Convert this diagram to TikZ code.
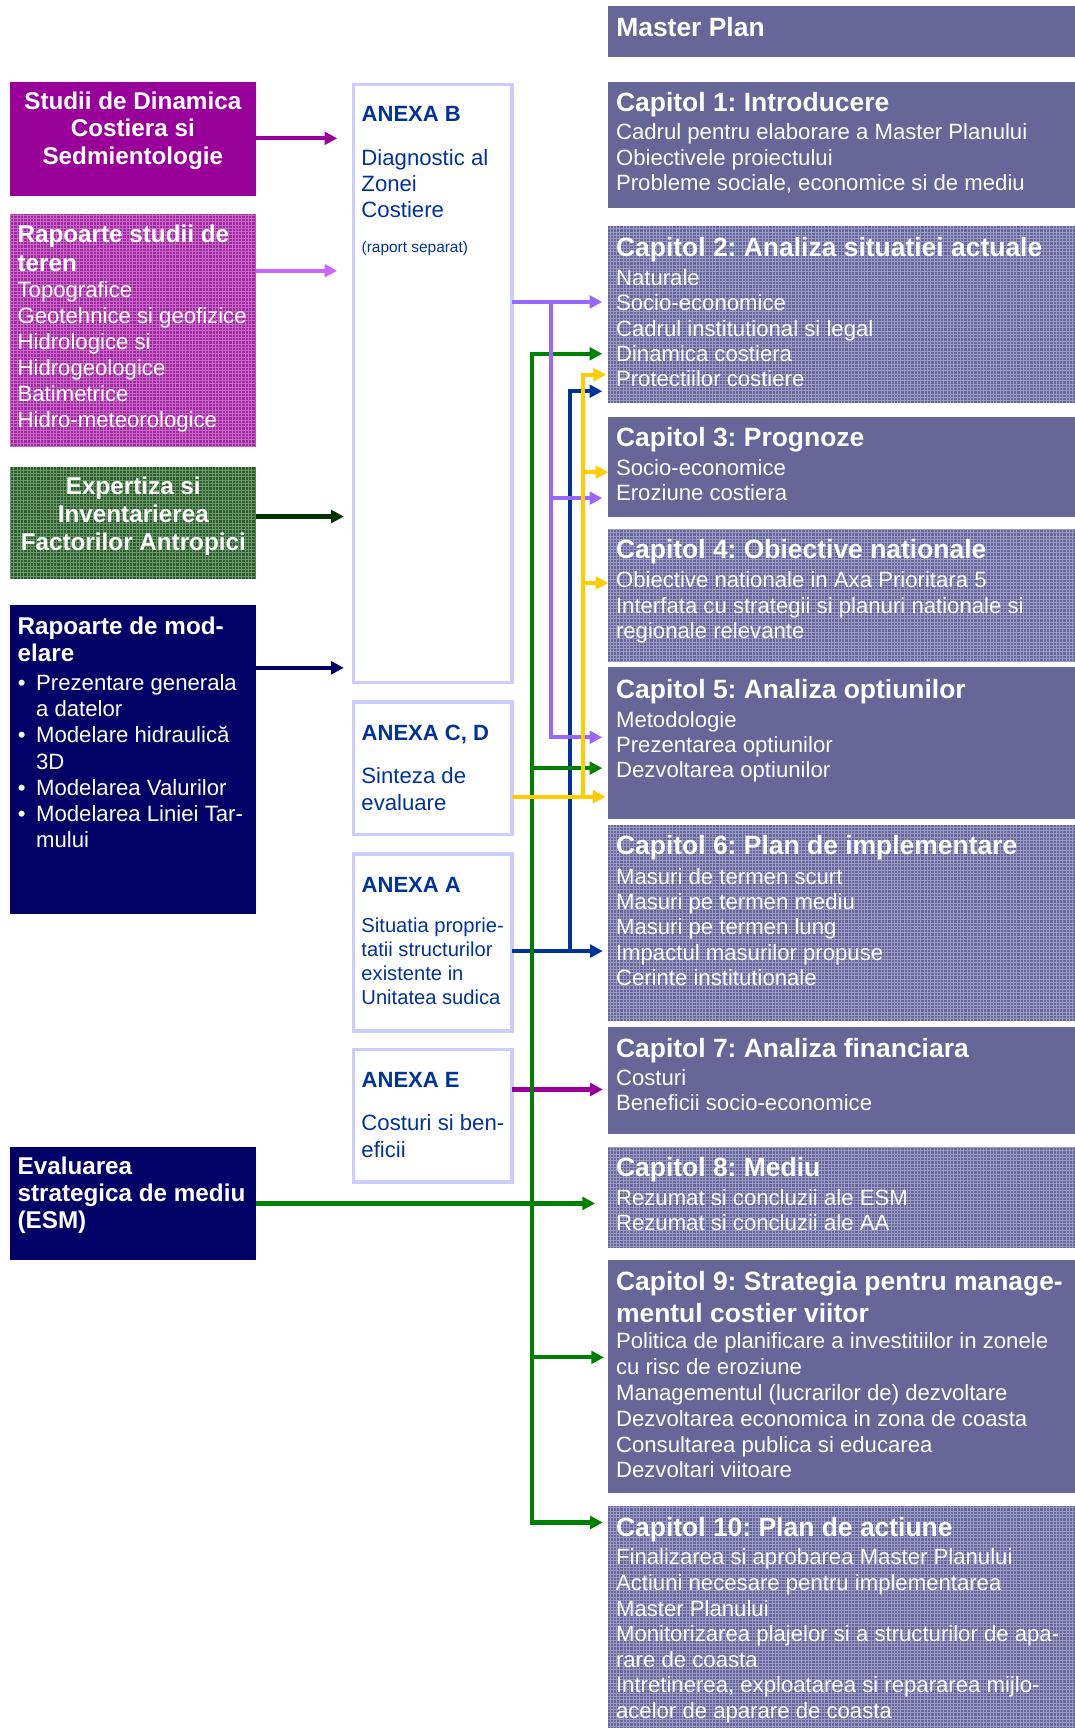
\documentclass[tikz,border=0pt]{standalone}
\usepackage{fontspec}
\setmainfont{Liberation Sans}
\usetikzlibrary{arrows.meta}
\frenchspacing

\definecolor{capcol}{HTML}{666699}
\definecolor{capgrid}{HTML}{9A9AC6}
\definecolor{magbox}{HTML}{990099}
\definecolor{pinkbase}{HTML}{9C2C9C}
\definecolor{pinkgrid}{HTML}{CC66CC}
\definecolor{grnbase}{HTML}{2E5C2E}
\definecolor{grngrid}{HTML}{6A996A}
\definecolor{navybox}{HTML}{000066}
\definecolor{anexborder}{HTML}{CCCCFF}
\definecolor{anextext}{HTML}{003399}
\definecolor{cpurple}{HTML}{9966FF}
\definecolor{clilac}{HTML}{CC66FF}
\definecolor{cgreen}{HTML}{008000}
\definecolor{cdkgreen}{HTML}{003300}
\definecolor{cyellow}{HTML}{FFCC00}
\definecolor{cblue}{HTML}{003399}

\newcommand\fCapT{\fontsize{24}{29}\selectfont\bfseries}
\newcommand\fBody{\fontsize{20.1}{23}\selectfont}
\newcommand\fLeftT{\fontsize{22}{25}\selectfont\bfseries}
\newcommand\fAnexT{\fontsize{20}{23}\selectfont\bfseries}
\newcommand\fAnexA{\fontsize{18.3}{21.7}\selectfont}
\newcommand\fSmall{\fontsize{14}{16}\selectfont}

% #1 name, #2 x, #3 first baseline, #4 line skip, #5 style, #6 lines
\newcommand\txtlines[6]{%
  \foreach \lineT [count=\k] in {#6}{%
    \node[anchor=base west, inner sep=0pt, outer sep=0pt, #5] (#1-\k) at (#2, #3+\k*#4-#4) {\lineT};%
  }}

\begin{document}
\begin{tikzpicture}[x=1pt,y=-1pt,
  gridfill/.style={path picture={\draw[#1, line width=0.8pt, step=3pt] (path picture bounding box.south west) grid (path picture bounding box.north east);}},
  capS/.style={anchor=north west, inner sep=0pt, outer sep=0pt, fill=capcol, minimum width=423pt},
  capP/.style={capS, gridfill=capgrid},
  leftS/.style={anchor=north west, inner sep=0pt, outer sep=0pt, minimum width=223pt},
  anexS/.style={anchor=north west, inner sep=0pt, outer sep=0pt, draw=anexborder, line width=3.3pt, fill=white, minimum width=143.7pt},
  capTitle/.style={text=white, font=\fCapT},
  capBody/.style={text=white, font=\fBody},
  leftTitle/.style={text=white, font=\fLeftT},
  leftTitleC/.style={text=white, font=\fLeftT, anchor=base},
  leftBody/.style={text=white, font=\fBody},
  anexTitle/.style={text=anextext, font=\fAnexT},
  anexBody/.style={text=anextext, font=\fBody},
  anexBodyA/.style={text=anextext, font=\fAnexA},
  anexSmall/.style={text=anextext, font=\fSmall},
  conn/.style={line width=3.8pt, -{Triangle[length=11.5pt,width=11.5pt]}},
  connboth/.style={line width=3.8pt, {Triangle[length=11.5pt,width=11.5pt]}-{Triangle[length=11.5pt,width=11.5pt]}},
]
\useasboundingbox (0,0) rectangle (975,1568);
\fill[white] (0,0) rectangle (975,1568);

% ---------- Master plan column ----------
\node[capS, minimum height=46.1pt] (mp) at (552,5.4) {};
\node[capS, minimum height=114pt] (c1) at (552,74.4) {};
\node[capP, minimum height=161pt] (c2) at (552,205) {};
\node[capS, minimum height=91pt] (c3) at (552,378) {};
\node[capP, minimum height=121pt] (c4) at (552,480) {};
\node[capS, minimum height=137.5pt] (c5) at (552,605.5) {};
\node[capP, minimum height=177pt] (c6) at (552,749) {};
\node[capS, minimum height=97.5pt] (c7) at (552,931.5) {};
\node[capP, minimum height=91.5pt] (c8) at (552,1040.5) {};
\node[capS, minimum height=211.5pt] (c9) at (552,1143) {};
\node[capP, minimum height=201.5pt] (c10) at (552,1366.5) {};

\node[capTitle, anchor=base west, inner sep=0pt] (mpt) at (559,33.3) {Master Plan};

\txtlines{c1a}{559}{101.5}{29}{capTitle}{Capitol 1: Introducere}
\txtlines{c1b}{559}{127}{23}{capBody}{Cadrul pentru elaborare a Master Planului, Obiectivele proiectului, {Probleme sociale, economice si de mediu}}

\txtlines{c2a}{559}{233}{29}{capTitle}{Capitol 2: Analiza situatiei actuale}
\txtlines{c2b}{559}{258.7}{23.1}{capBody}{Naturale, Socio-economice, Cadrul institutional si legal, Dinamica costiera, Protectiilor costiere}

\txtlines{c3a}{559}{405}{29}{capTitle}{Capitol 3: Prognoze}
\txtlines{c3b}{559}{431.2}{23}{capBody}{Socio-economice, Eroziune costiera}

\txtlines{c4a}{559}{507}{29}{capTitle}{Capitol 4: Obiective nationale}
\txtlines{c4b}{559}{533.5}{22.8}{capBody}{Obiective nationale in Axa Prioritara 5, Interfata cu strategii si planuri nationale si, regionale relevante}

\txtlines{c5a}{559}{634}{29}{capTitle}{Capitol 5: Analiza optiunilor}
\txtlines{c5b}{559}{660.3}{22.5}{capBody}{Metodologie, Prezentarea optiunilor, Dezvoltarea optiunilor}

\txtlines{c6a}{559}{775.6}{29}{capTitle}{Capitol 6: Plan de implementare}
\txtlines{c6b}{559}{802.5}{22.9}{capBody}{Masuri de termen scurt, Masuri pe termen mediu, Masuri pe termen lung, Impactul masurilor propuse, Cerinte institutionale}

\txtlines{c7a}{559}{959.3}{29}{capTitle}{Capitol 7: Analiza financiara}
\txtlines{c7b}{559}{985}{22.7}{capBody}{Costuri, Beneficii socio-economice}

\txtlines{c8a}{559}{1067.6}{29}{capTitle}{Capitol 8: Mediu}
\txtlines{c8b}{559}{1094}{22.7}{capBody}{Rezumat si concluzii ale ESM, Rezumat si concluzii ale AA}

\txtlines{c9a}{559}{1171}{29}{capTitle}{Capitol 9: Strategia pentru manage-, mentul costier viitor}
\txtlines{c9b}{559}{1224}{23.4}{capBody}{Politica de planificare a investitiilor in zonele, cu risc de eroziune, {Managementul (lucrarilor de) dezvoltare}, Dezvoltarea economica in zona de coasta, Consultarea publica si educarea, Dezvoltari viitoare}

\txtlines{c10a}{559}{1394.5}{29}{capTitle}{Capitol 10: Plan de actiune}
\txtlines{c10b}{559}{1420}{23.2}{capBody}{Finalizarea si aprobarea Master Planului, Actiuni necesare pentru implementarea, Master Planului, Monitorizarea plajelor si a structurilor de apa-, rare de coasta, {Intretinerea, exploatarea si repararea mijlo-}, acelor de aparare de coasta}

% ---------- Left column ----------
\node[leftS, fill=magbox, minimum height=103.6pt] (studii) at (9,74.4) {};
\node[leftS, fill=pinkbase, gridfill=pinkgrid, minimum height=211.7pt] (rapteren) at (9,194.3) {};
\node[leftS, fill=grnbase, gridfill=grngrid, minimum height=101.9pt] (expert) at (9,423.7) {};
\node[leftS, fill=navybox, minimum height=280pt] (model) at (9,549) {};
\node[leftS, fill=navybox, minimum height=102.5pt] (esm) at (9,1040.5) {};

\txtlines{st}{120.5}{99.3}{25}{leftTitleC}{Studii de Dinamica, Costiera si, Sedmientologie}
\txtlines{rta}{16}{220}{26.5}{leftTitle}{Rapoarte studii de, teren}
\txtlines{rtb}{16}{270}{23.5}{leftBody}{Topografice, Geotehnice si geofizice, Hidrologice si, Hidrogeologice, Batimetrice, Hidro-meteorologice}
\txtlines{ex}{121}{448.6}{25.3}{leftTitleC}{Expertiza si, Inventarierea, Factorilor Antropici}
\txtlines{mda}{16}{575.6}{25}{leftTitle}{Rapoarte de mod-, elare}
\txtlines{mdb}{32.8}{626.4}{23.8}{leftBody}{Prezentare generala, a datelor, Modelare hidraulică, 3D, Modelarea Valurilor, Modelarea Liniei Tar-, mului}
\node[leftBody, anchor=base west, inner sep=0pt] (bul1) at (16,626.4) {•};
\node[leftBody, anchor=base west, inner sep=0pt] (bul2) at (16,674) {•};
\node[leftBody, anchor=base west, inner sep=0pt] (bul3) at (16,721.6) {•};
\node[leftBody, anchor=base west, inner sep=0pt] (bul4) at (16,745.4) {•};
\txtlines{es}{16}{1066}{24.5}{leftTitle}{Evaluarea, strategica de mediu, (ESM)}

% ---------- Anexe ----------
\node[anexS, minimum height=542.7pt] (AB) at (320.65,76.65) {};
\node[anexS, minimum height=120.2pt] (ACD) at (320.65,637.15) {};
\node[anexS, minimum height=160.2pt] (AA) at (320.65,775.15) {};
\node[anexS, minimum height=120.2pt] (AE) at (320.65,952.15) {};

\node[anexTitle, anchor=base west, inner sep=0pt] (ABt) at (328,110.5) {ANEXA B};
\txtlines{abb}{328}{150.4}{23.3}{anexBody}{Diagnostic al, Zonei, Costiere}
\node[anexSmall, anchor=base west, inner sep=0pt] (ABs) at (328,229) {(raport separat)};

\node[anexTitle, anchor=base west, inner sep=0pt] (ACDt) at (328,672) {ANEXA C, D};
\txtlines{acd}{328}{711}{24.5}{anexBody}{Sinteza de, evaluare}

\node[anexTitle, anchor=base west, inner sep=0pt] (AAt) at (328,809.5) {ANEXA A};
\txtlines{aab}{328}{846.5}{21.7}{anexBodyA}{Situatia proprie-, tatii structurilor, existente in, Unitatea sudica}

\node[anexTitle, anchor=base west, inner sep=0pt] (AEt) at (328,986.5) {ANEXA E};
\txtlines{aeb}{328}{1026}{24}{anexBody}{Costuri si ben-, eficii}

% ---------- Connectors: inputs ----------
\coordinate (t1) at (306,125.5);
\coordinate (t2) at (306,245.7);
\coordinate (t3) at (312,468.7);
\coordinate (t4) at (312,606);
\draw[conn, magbox] (studii.east |- t1) -- (t1);
\draw[conn, clilac] (rapteren.east |- t2) -- (t2);
\draw[conn, cdkgreen] (expert.east |- t3) -- (t3);
\draw[conn, navybox] (model.east |- t4) -- (t4);

% ---------- Blue (Anexa A) ----------
\coordinate (bx) at (517.5,0);
\coordinate (tb1) at (546.5,355);
\coordinate (tb2) at (547,863);
\draw[conn, cblue] (AA.east |- tb2) -- (tb2);
\draw[conn, cblue] (bx |- tb2) -- (bx |- tb1) -- (tb1);

% ---------- Magenta (Anexa E) ----------
\coordinate (tm) at (547,988.6);
\draw[conn, magbox] (AE.east |- tm) -- (tm);

% ---------- Green (ESM) ----------
\coordinate (gx) at (483,0);
\coordinate (tg1) at (546.5,321);
\coordinate (tg2) at (546.5,697);
\coordinate (tg3) at (540,1092);
\coordinate (tg4) at (548,1231.7);
\coordinate (tg5) at (547,1381.5);
\draw[connboth, cgreen] (tg1) -- (gx |- tg1) -- (gx |- tg5) -- (tg5);
\draw[conn, cgreen] (gx |- tg2) -- (tg2);
\draw[conn, cgreen] (gx |- tg4) -- (tg4);
\draw[conn, cgreen] (esm.east |- tg3) -- (tg3);

% ---------- Purple (Anexa B) ----------
\coordinate (px) at (500,0);
\coordinate (tp1) at (546.5,274);
\coordinate (tp2) at (546.5,452);
\coordinate (tp3) at (546.5,669);
\draw[conn, cpurple] (AB.east |- tp1) -- (tp1);
\draw[conn, cpurple] (px |- tp1) -- (px |- tp3) -- (tp3);
\draw[conn, cpurple] (px |- tp2) -- (tp2);

% ---------- Yellow (Anexa C, D) ----------
\coordinate (yx) at (529,0);
\coordinate (ty1) at (550,340);
\coordinate (ty2) at (552,428.5);
\coordinate (ty3) at (552,529);
\coordinate (ty4) at (549.5,723);
\draw[conn, cyellow] (ACD.east |- ty4) -- (ty4);
\draw[conn, cyellow] (yx |- ty4) -- (yx |- ty1) -- (ty1);
\draw[conn, cyellow] (yx |- ty2) -- (ty2);
\draw[conn, cyellow] (yx |- ty3) -- (ty3);
\end{tikzpicture}
\end{document}
